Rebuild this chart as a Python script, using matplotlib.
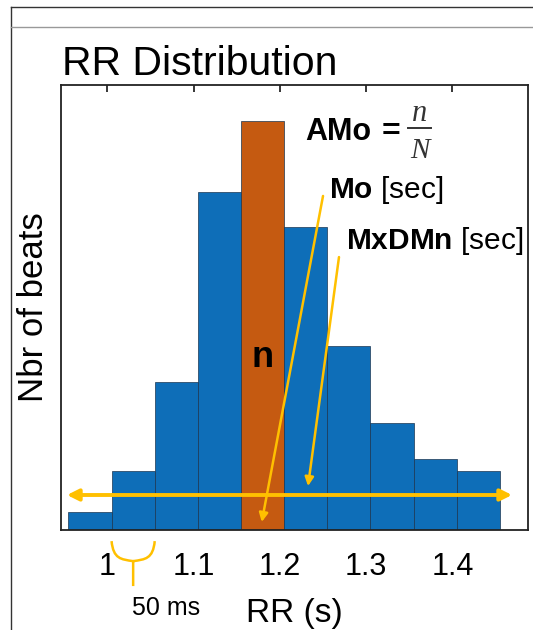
import matplotlib
matplotlib.use("Agg")
import matplotlib.pyplot as plt
from matplotlib.path import Path
from matplotlib.patches import PathPatch
import matplotlib.transforms as mtransforms
import numpy as np

plt.rcParams['font.family'] = ['Liberation Sans', 'DejaVu Sans']
plt.rcParams['mathtext.fontset'] = 'custom'
plt.rcParams['mathtext.rm'] = 'Liberation Sans'
plt.rcParams['mathtext.bf'] = 'Liberation Sans:bold'
plt.rcParams['mathtext.it'] = 'Liberation Serif:italic'

# ---- data ----
bin_centers = [0.98, 1.03, 1.08, 1.13, 1.18, 1.23, 1.28, 1.33, 1.38, 1.43]
counts = [3, 10, 25, 57, 69, 51, 31, 18, 12, 10]
bin_width = 0.05
mode_index = 4
x_ticks = [1.0, 1.1, 1.2, 1.3, 1.4]
x_tick_labels = ["1", "1.1", "1.2", "1.3", "1.4"]
x_limits = (0.9464, 1.4875)
y_limits = (0, 75)

# annotation anchors (data coords)
range_arrow_y = 5.9
range_arrow_x = (0.9533, 1.469)
mo_arrow = ((1.250, 56.3), (1.179, 1.35))
mxdmn_arrow = ((1.2685, 46.0), (1.2326, 7.4))

blue = '#0E6EB8'
orange = '#C55A11'
gold = '#FFC000'

fig = plt.figure(figsize=(5.33, 6.30), dpi=100)
ax = fig.add_axes([61/533, 1-530/630, 467/533, 445/630])

colors = [orange if i == mode_index else blue for i in range(len(counts))]
ax.bar(bin_centers, counts, width=bin_width, color=colors,
       edgecolor='#1b3550', linewidth=0.5, zorder=1)

ax.set_xlim(*x_limits)
ax.set_ylim(*y_limits)
ax.set_xticks(x_ticks)
ax.set_xticklabels(x_tick_labels, fontsize=22)
ax.set_yticks([])
ax.tick_params(axis='x', top=True, bottom=False, direction='in', length=5,
               width=1.1, pad=16)
for s in ax.spines.values():
    s.set_linewidth(1.3)
    s.set_color('#222222')

ax.set_xlabel("RR (s)", fontsize=24, va='baseline')
ax.xaxis.set_label_coords(0.5, (530-622)/445)
ax.set_ylabel("Nbr of beats", fontsize=25, labelpad=8)

fig.text(62/533, 1-75/630, "RR Distribution", fontsize=29.5, va='baseline', ha='left')

# horizontal range arrow
ax.annotate('', xy=(range_arrow_x[0], range_arrow_y), xytext=(range_arrow_x[1], range_arrow_y),
            arrowprops=dict(arrowstyle='<|-|>', color=gold, lw=2.8, mutation_scale=17,
                            shrinkA=0, shrinkB=0), annotation_clip=False, zorder=5)
# Mo arrow
ax.annotate('', xy=mo_arrow[1], xytext=mo_arrow[0],
            arrowprops=dict(arrowstyle='-|>', color=gold, lw=1.8, mutation_scale=13,
                            shrinkA=0, shrinkB=0), zorder=5)
# MxDMn arrow
ax.annotate('', xy=mxdmn_arrow[1], xytext=mxdmn_arrow[0],
            arrowprops=dict(arrowstyle='-|>', color=gold, lw=1.8, mutation_scale=13,
                            shrinkA=0, shrinkB=0), zorder=5)

# text labels
ax.text(bin_centers[mode_index], 29, "n", fontsize=26, fontweight='bold',
        ha='center', va='center', zorder=6)

def fx(px):
    return (px - 61) / 467

def fy(py):
    return (530 - py) / 445

ta = ax.transAxes
ax.text(fx(305), fy(140), "AMo", fontsize=22, fontweight='bold', ha='left', va='baseline', transform=ta)
ax.text(fx(391), fy(140), "=", fontsize=23, fontweight='bold', ha='center', va='baseline', transform=ta)
ax.plot([fx(408), fx(431)], [fy(128), fy(128)], color='#333333', lw=1.4, transform=ta, clip_on=False)
ax.text(fx(420), fy(121), "n", fontsize=22, fontstyle='italic', family='Liberation Serif',
        ha='center', va='baseline', transform=ta, color='#333333')
ax.text(fx(420), fy(158), "N", fontsize=21, fontstyle='italic', family='Liberation Serif',
        ha='center', va='baseline', transform=ta, color='#333333')

ax.text(1.2566, 57.3, r"$\mathbf{Mo}$ [sec]", fontsize=21.5, ha='left', va='center')
ax.text(1.2766, 48.7, r"$\mathbf{MxDMn}$ [sec]", fontsize=21.5, ha='left', va='center')

# brace under bin 2 (50 ms)
trans = mtransforms.blended_transform_factory(ax.transData, ax.transAxes)
b_left = bin_centers[1] - bin_width/2
b_right = bin_centers[1] + bin_width/2
bc = bin_centers[1]
top, meet, stem = -0.025, -0.07, -0.126
verts = [(b_left, top), (b_left + 0.002, top - 0.04), (bc - 0.014, meet + 0.004), (bc, meet),
         (bc, stem),
         (bc, meet), (bc + 0.014, meet + 0.004), (b_right - 0.002, top - 0.04), (b_right, top)]
codes = [Path.MOVETO, Path.CURVE4, Path.CURVE4, Path.CURVE4,
         Path.LINETO,
         Path.MOVETO, Path.CURVE4, Path.CURVE4, Path.CURVE4]
ax.add_patch(PathPatch(Path(verts, codes), transform=trans, facecolor='none',
                       edgecolor=gold, lw=1.8, clip_on=False))
ax.text(1.068, (530-615)/445, "50 ms", transform=trans, fontsize=18, ha='center', va='baseline')

# frame lines
fig.add_artist(plt.Line2D([11/533, 11/533], [0, 1-7/630], color='#333333', lw=1.0))
fig.add_artist(plt.Line2D([11/533, 1], [1-7/630, 1-7/630], color='#333333', lw=1.0))
fig.add_artist(plt.Line2D([11/533, 1], [1-27/630, 1-27/630], color='#999999', lw=1.0))

fig.savefig("out.png", dpi=100)
